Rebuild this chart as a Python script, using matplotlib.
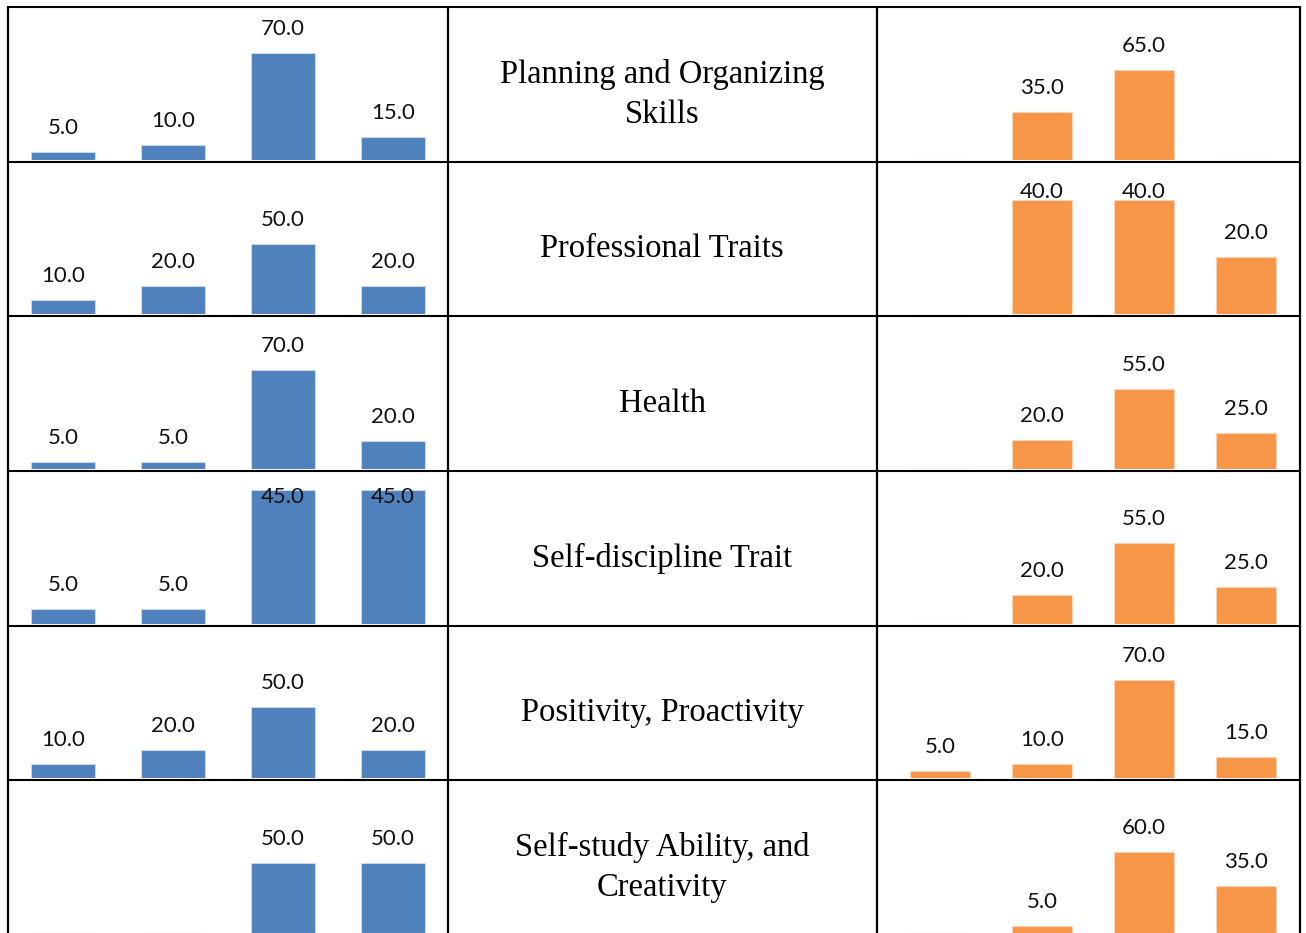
import matplotlib.pyplot as plt
import numpy as np

nan = np.nan

# row labels (middle column)
traits = ["Planning and Organizing\nSkills", "Professional Traits", "Health",
          "Self-discipline Trait", "Positivity, Proactivity",
          "Self-study Ability, and\nCreativity"]

# left column (blue) values, 4 categories per row
left_vals = [[5, 10, 70, 15],
             [10, 20, 50, 20],
             [5, 5, 70, 20],
             [5, 5, 45, 45],
             [10, 20, 50, 20],
             [nan, nan, 50, 50]]

# right column (orange) values
right_vals = [[nan, 35, 65, nan],
              [nan, 40, 40, 20],
              [nan, 20, 55, 25],
              [nan, 20, 55, 25],
              [5, 10, 70, 15],
              [nan, 5, 60, 35]]

W, H = 1306, 933
fig = plt.figure(figsize=(W/100, H/100), dpi=100)

row_lines = [7, 162, 316, 471, 626, 780, 935]
col_lines = [7.5, 448, 877, 1300]

# per-chart y scale (each small chart has its own axis range)
left_ymax = [100, 108.6, 108, 51.4, 107, 109]
right_ymax = [111, 53.3, 105, 104, 109, 113]
# label offset (px) used when the label would not fit above the bar
left_fit = [24, 24, 24, -7, 24, 24]
right_fit = [24, 8, 24, 24, 24, 24]

blue = "#4f81bd"
orange = "#f79646"


def px_axes(x0, x1, ytop, ybot):
    ax = fig.add_axes([x0/W, 1-ybot/H, (x1-x0)/W, (ybot-ytop)/H])
    ax.axis("off")
    return ax


def draw_chart(ax, vals, ymax, color, fit, edge, h):
    idx = np.arange(4)
    v = np.array(vals, dtype=float)
    ax.bar(idx, np.nan_to_num(v), 0.59, color=color, edgecolor=edge,
           linewidth=0.8, zorder=2)
    ax.set_xlim(-0.5, 3.5)
    ax.set_ylim(0, ymax)
    ppu = h / ymax
    for i, val in zip(idx, v):
        if np.isnan(val):
            continue
        off = 24
        if (ymax - val) * ppu < 40:
            off = fit
        z = 1 if 0 < off < 15 else 3
        ax.annotate("{:.1f}".format(val), (i, val), xytext=(0, off*0.72),
                    textcoords="offset points", ha="center", va="center",
                    fontsize=16, family="Lato", color="#111111", zorder=z,
                    annotation_clip=False)


for r in range(6):
    top = row_lines[r]
    bot = row_lines[r+1] - 2
    axl = px_axes(8, 448, top, bot)
    draw_chart(axl, left_vals[r], left_ymax[r], blue, left_fit[r], "#c9d7ea",
               bot - top)
    axr = px_axes(889, 1297, top, bot)
    draw_chart(axr, right_vals[r], right_ymax[r], orange, right_fit[r], "#fbd3b4",
               bot - top)

# overlay for the table grid and middle text
ov = fig.add_axes([0, 0, 1, 1], zorder=10)
ov.set_xlim(0, W)
ov.set_ylim(H, 0)
ov.axis("off")

for x in col_lines:
    ov.plot([x, x], [6, H + 5], color="black", lw=1.6, solid_capstyle="butt")
for y in row_lines[:-1]:
    ov.plot([col_lines[0], col_lines[-1]], [y, y], color="black", lw=1.5,
            solid_capstyle="butt")

for r, name in enumerate(traits):
    yc = (row_lines[r] + row_lines[r+1]) / 2 + 10
    ov.text(662, yc, name, ha="center", va="center", fontsize=23.5,
            family="Liberation Serif", linespacing=1.4, color="black")

fig.savefig("out.png", dpi=100)
